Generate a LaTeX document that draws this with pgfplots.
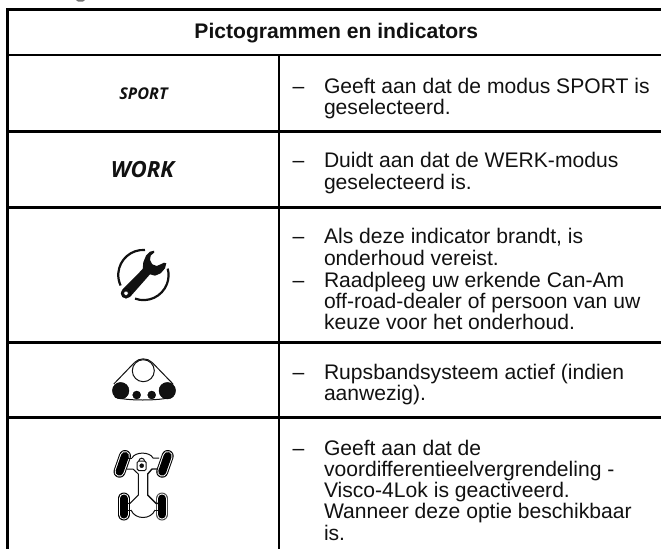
\documentclass[border=0pt]{standalone}
\usepackage{pgfplots}
\pgfplotsset{compat=1.18}
\usepackage{fontspec}
\setmainfont[Ligatures=NoCommon]{Liberation Sans}
\newfontfamily\iconfont{Open Sans}
\definecolor{ink}{HTML}{111111}
\newcommand{\tl}[3]{\node[anchor=base west,inner sep=0pt,text=ink,xshift=-0.7bp,yshift=-0.5bp] at (axis cs:#1,#2) {#3};}
\begin{document}
\begin{tikzpicture}
\begin{axis}[
  at={(0bp,0bp)},anchor=south west,
  scale only axis, width=661bp, height=549bp,
  xmin=0, xmax=661, ymin=0, ymax=549, y dir=reverse,
  axis lines=none, clip=false, ticks=none,
  font=\fontsize{21.1bp}{22bp}\selectfont,
]
% table rules
\addplot[black,line width=2.7bp,no markers] coordinates {(6.35,9.7)(661,9.7)};
\addplot[black,line width=2.7bp,no markers] coordinates {(7.7,9.7)(7.7,549)};
\addplot[black,line width=2.5bp,no markers] coordinates {(7.7,55)(661,55)};
\addplot[black,line width=2.5bp,no markers] coordinates {(7.7,131.5)(661,131.5)};
\addplot[black,line width=2.5bp,no markers] coordinates {(7.7,207.5)(661,207.5)};
\addplot[black,line width=2.5bp,no markers] coordinates {(7.7,342.3)(661,342.3)};
\addplot[black,line width=2.5bp,no markers] coordinates {(7.7,417.3)(661,417.3)};
\addplot[black,line width=2.3bp,no markers] coordinates {(279,55)(279,549)};
% cut-off descender at the top
\addplot[fill=black!55,draw=none,no markers] coordinates {(76,0)(85,0)(83,1.6)(78,1.6)} -- cycle;
% header
\node[anchor=base,inner sep=0pt,text=ink] at (axis cs:336.3,38.3) {\bfseries Pictogrammen en indicators};
% text column
\tl{293}{92.7}{–}\tl{324.5}{92.7}{Geeft aan dat de modus SPORT is}
\tl{324.5}{114.3}{geselecteerd.}
\tl{293}{167.3}{–}\tl{324.5}{167.3}{Duidt aan dat de WERK-modus}
\tl{324.5}{189}{geselecteerd is.}
\tl{293}{242.7}{–}\tl{324.5}{242.7}{Als deze indicator brandt, is}
\tl{324.5}{265}{onderhoud vereist.}
\tl{293}{286.7}{–}\tl{324.5}{286.7}{Raadpleeg uw erkende Can-Am}
\tl{324.5}{307.7}{off-road-dealer of persoon van uw}
\tl{324.5}{329}{keuze voor het onderhoud.}
\tl{293}{379.3}{–}\tl{324.5}{379.3}{Rupsbandsysteem actief (indien}
\tl{324.5}{400}{aanwezig).}
\tl{293}{455}{–}\tl{324.5}{455}{Geeft aan dat de}
\tl{324.5}{475.5}{voordifferentieelvergrendeling -}
\tl{324.5}{496.7}{Visco-4Lok is geactiveerd.}
\tl{324.5}{517.7}{Wanneer deze optie beschikbaar}
\tl{324.5}{540}{is.}
% mode words
\node[anchor=base,inner sep=0pt,text=ink] at (axis cs:143.5,99.8) {\fontsize{16.2bp}{16bp}\selectfont\iconfont\bfseries\itshape SPORT};
\node[anchor=base,inner sep=0pt,text=ink] at (axis cs:142.5,177) {\fontsize{22.3bp}{22bp}\selectfont\iconfont\bfseries\itshape WORK};
% wrench icon
\draw[ink,line width=2.2bp] (axis cs:145,250) arc[start angle=86,end angle=205,radius=25bp];
\draw[ink,line width=2.2bp] (axis cs:135,298.6) arc[start angle=250,end angle=375,radius=25bp];
\addplot[fill=ink,draw=none,no markers] coordinates {(122.7,289.3)(142.7,269)(143.3,262.3)(146,255.7)(150,251.7)(154,250.7)(154.3,252.3)(150.7,255.7)(150,260)(152.3,264.3)(156.7,266)(160.7,264.3)(164,262.7)(166.3,263.3)(165,268.3)(160.7,273.3)(155,275.7)(150,274.3)(130,297)} -- cycle;
\addplot[only marks,mark=*,mark size=5bp,mark options={fill=ink,draw=none}] coordinates {(126,293.3)};
\addplot[only marks,mark=*,mark size=2.2bp,mark options={fill=white,draw=none}] coordinates {(126,293.3)};
% tracks icon
\addplot[ink,line width=1bp,no markers] coordinates {(113.8,384)(134.5,362.5)};
\addplot[ink,line width=1bp,no markers] coordinates {(173,384)(152.2,362.5)};
\draw[ink,line width=1bp] (axis cs:134.5,362.5) arc[start angle=135,end angle=45,radius=12.5bp];
\draw[ink,line width=1bp] (axis cs:115,397) .. controls (axis cs:125,401) and (axis cs:160,401) .. (axis cs:172,397);
\addplot[only marks,mark=*,mark size=11bp,mark options={fill=white,draw=ink,line width=1bp}] coordinates {(143.3,370.7)};
\addplot[only marks,mark=*,mark size=8.3bp,mark options={fill=ink,draw=none}] coordinates {(120.7,390.7)(167.3,390.7)};
\addplot[only marks,mark=*,mark size=4bp,mark options={fill=ink,draw=none}] coordinates {(136.7,395)(151.7,395)};
% vehicle icon: wheels
\addplot[black,line width=12bp,line cap=round,no markers] coordinates {(119.5,471.7)(125,456)};
\addplot[white,line width=10bp,line cap=round,no markers] coordinates {(119.5,471.7)(125,456)};
\addplot[black,line width=8bp,line cap=round,no markers] coordinates {(119.5,471.7)(125,456)};
\addplot[black,line width=12bp,line cap=round,no markers] coordinates {(162.2,471.7)(167.7,456)};
\addplot[white,line width=10bp,line cap=round,no markers] coordinates {(162.2,471.7)(167.7,456)};
\addplot[black,line width=8bp,line cap=round,no markers] coordinates {(162.2,471.7)(167.7,456)};
\addplot[black,line width=12bp,line cap=round,no markers] coordinates {(123.7,498.5)(123.7,514.5)};
\addplot[white,line width=10bp,line cap=round,no markers] coordinates {(123.7,498.5)(123.7,514.5)};
\addplot[black,line width=8bp,line cap=round,no markers] coordinates {(123.7,498.5)(123.7,514.5)};
\addplot[black!70,line width=12bp,line cap=round,no markers] coordinates {(162,498.5)(162,514.5)};
\addplot[white,line width=10bp,line cap=round,no markers] coordinates {(162,498.5)(162,514.5)};
\addplot[black,line width=8bp,line cap=round,no markers] coordinates {(162,498.5)(162,514.5)};
% vehicle icon: chassis
\draw[ink,line width=1bp] (axis cs:132,458) .. controls (axis cs:135,451.5) and (axis cs:150,451.5) .. (axis cs:153,458) -- (axis cs:159,458);
\addplot[ink,line width=1bp,no markers] coordinates {(128,458)(132,458)};
\addplot[ink,line width=1bp,no markers] coordinates {(127,469)(133,469)(138.3,474)(138.3,495)(130,503.3)(127.5,503.3)};
\addplot[ink,line width=1.4bp,no markers] coordinates {(158,469)(152,469)(147.7,474)(147.7,495)(156,503.3)(158,503.3)};
\addplot[ink,line width=1bp,no markers] coordinates {(127.5,510)(131,510)};
\addplot[ink,line width=1bp,no markers] coordinates {(155,510)(158,510)};
\draw[ink,line width=1bp] (axis cs:131,510) .. controls (axis cs:135,520) and (axis cs:151,520) .. (axis cs:155,510);
% vehicle icon: padlock
\draw[ink,line width=1bp,rounded corners=1.5bp] (axis cs:137.2,461) rectangle (axis cs:146.2,470.5);
\draw[ink,line width=1bp] (axis cs:138.9,461) arc[start angle=180,end angle=0,radius=2.8bp];
\addplot[only marks,mark=*,mark size=2bp,mark options={fill=ink,draw=none}] coordinates {(141.7,465.7)};
\end{axis}
\pgfresetboundingbox
\path[use as bounding box] (0bp,0bp) rectangle (661bp,549bp);
\end{tikzpicture}
\end{document}
